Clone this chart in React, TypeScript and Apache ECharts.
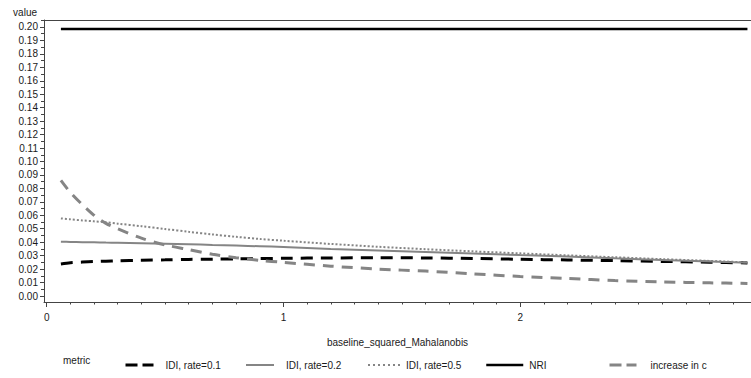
import React, { useEffect, useRef } from "react";
import * as echarts from "echarts";

// x positions (baseline_squared_Mahalanobis) at which curves are read
const xValues = [0.06, 0.1, 0.15, 0.2, 0.25, 0.3, 0.4, 0.5, 0.6, 0.7, 0.8, 0.9, 1.0, 1.2, 1.4, 1.6, 1.8, 2.0, 2.2, 2.4, 2.6, 2.8, 2.96];

const idiRate01 = [0.0238, 0.0247, 0.0252, 0.0256, 0.0259, 0.0262, 0.0266, 0.0269, 0.0272, 0.0274, 0.0276, 0.0278, 0.028, 0.0283, 0.0284, 0.0283, 0.0279, 0.0273, 0.0268, 0.0263, 0.0257, 0.0251, 0.0246];
const idiRate02 = [0.0403, 0.0402, 0.04, 0.0399, 0.0397, 0.0396, 0.0393, 0.0389, 0.0385, 0.038, 0.0375, 0.037, 0.0364, 0.035, 0.0338, 0.0327, 0.0316, 0.0304, 0.0293, 0.028, 0.0268, 0.0257, 0.0248];
const idiRate05 = [0.0577, 0.057, 0.0562, 0.0555, 0.0548, 0.0538, 0.0519, 0.0498, 0.0477, 0.0458, 0.044, 0.0424, 0.0411, 0.0387, 0.0366, 0.0348, 0.0332, 0.0317, 0.0302, 0.0288, 0.0274, 0.0261, 0.025];
const nri = [0.1985, 0.1985, 0.1985, 0.1985, 0.1985, 0.1985, 0.1985, 0.1985, 0.1985, 0.1985, 0.1985, 0.1985, 0.1985, 0.1985, 0.1985, 0.1985, 0.1985, 0.1985, 0.1985, 0.1985, 0.1985, 0.1985, 0.1985];
const increaseInC = [0.086, 0.077, 0.068, 0.06, 0.054, 0.05, 0.043, 0.038, 0.0345, 0.031, 0.0285, 0.0265, 0.025, 0.0222, 0.02, 0.0185, 0.0165, 0.0145, 0.013, 0.0115, 0.0105, 0.0098, 0.0093];

const seriesNames = ["IDI, rate=0.1", "IDI, rate=0.2", "IDI, rate=0.5", "NRI", "increase in c"];
const seriesValues = [idiRate01, idiRate02, idiRate05, nri, increaseInC];

const yTickValues = [0, 0.01, 0.02, 0.03, 0.04, 0.05, 0.06, 0.07, 0.08, 0.09, 0.1, 0.11, 0.12, 0.13, 0.14, 0.15, 0.16, 0.17, 0.18, 0.19, 0.2];
const xTickValues = [0, 1, 2];

const FONT = "'Liberation Sans', Arial, sans-serif";
const TEXT = "#1a1a1a";
const AXIS = "#444";
const GRAY = "#858585";

const lineStyles = [
  { color: "#000", width: 3, type: [12, 8] },
  { color: GRAY, width: 2, type: "solid" },
  { color: GRAY, width: 2, type: [2, 2] },
  { color: "#000", width: 2.5, type: "solid" },
  { color: GRAY, width: 3, type: [11, 8] },
];

const legendLayout = [
  { left: 119, w: 28, pad: 7, dash: [12, 5] as any },
  { left: 240, w: 28, pad: 7, dash: "solid" as any },
  { left: 362, w: 33, pad: 0, dash: [2, 3] as any },
  { left: 480, w: 37, pad: 1, dash: "solid" as any },
  { left: 603, w: 27, pad: 9, dash: [12, 5] as any },
];

export default function App() {
  const ref = useRef<HTMLDivElement>(null);
  useEffect(() => {
    if (!ref.current) return;
    const chart = echarts.init(ref.current, undefined, { renderer: "svg" });
    const series = seriesNames.map((name, i) => ({
      name,
      type: "line",
      data: xValues.map((x, j) => [x, seriesValues[i][j]]),
      symbol: "none",
      showSymbol: false,
      smooth: 0.3,
      lineStyle: { ...lineStyles[i] },
      itemStyle: { color: lineStyles[i].color },
      emphasis: { disabled: true },
    }));
    const legends = seriesNames.map((name, i) => ({
      show: true,
      left: legendLayout[i].left,
      top: 355,
      orient: "horizontal",
      itemWidth: legendLayout[i].w,
      itemHeight: 10,
      selectedMode: false,
      data: [name],
      itemStyle: { color: "rgba(0,0,0,0)", borderWidth: 0, opacity: 0 },
      lineStyle: { width: lineStyles[i].width, type: legendLayout[i].dash, color: lineStyles[i].color },
      textStyle: { fontFamily: FONT, fontSize: 10, color: TEXT, padding: [0, 0, 0, legendLayout[i].pad] },
    }));
    chart.setOption({
      animation: false,
      grid: { left: 44, right: 0, top: 20, bottom: 76, containLabel: false },
      legend: legends,
      graphic: [
        {
          type: "text",
          left: 63,
          top: 355,
          style: { text: "metric", font: `10px ${FONT}`, fill: TEXT },
        },
      ],
      xAxis: [
        {
          type: "value",
          min: -0.0114,
          max: 2.975,
          minInterval: 1,
          maxInterval: 1,
          name: "baseline_squared_Mahalanobis",
          nameLocation: "middle",
          nameGap: 35,
          nameTextStyle: { fontFamily: FONT, fontSize: 10, color: TEXT },
          axisLine: { show: true, onZero: false, lineStyle: { color: AXIS, width: 1 } },
          axisTick: { show: true, length: 5, customValues: xTickValues, lineStyle: { color: AXIS } },
          minorTick: { show: true, splitNumber: 10, length: 2.5, lineStyle: { color: AXIS } },
          axisLabel: {
            customValues: xTickValues,
            fontFamily: FONT,
            fontSize: 10,
            color: TEXT,
            margin: 10,
            formatter: (v: number) => String(Math.round(v)),
          },
          splitLine: { show: false },
        },
        {
          type: "value",
          position: "top",
          min: -0.0114,
          max: 2.975,
          axisLine: { show: true, onZero: false, lineStyle: { color: AXIS, width: 1 } },
          axisTick: { show: false },
          axisLabel: { show: false },
          splitLine: { show: false },
        },
      ],
      yAxis: {
        type: "value",
        min: -0.00446,
        max: 0.2052,
        minInterval: 0.01,
        maxInterval: 0.01,
        name: "value",
        nameLocation: "end",
        nameGap: 3,
        nameTextStyle: { fontFamily: FONT, fontSize: 10, color: TEXT, align: "right", verticalAlign: "bottom", padding: [0, 7, 0, 0] },
        axisLine: { show: true, onZero: false, lineStyle: { color: AXIS, width: 1 } },
        axisTick: { show: true, length: 4, customValues: yTickValues, lineStyle: { color: AXIS } },
        minorTick: { show: true, splitNumber: 2, length: 3, lineStyle: { color: AXIS } },
        axisLabel: {
          customValues: yTickValues,
          fontFamily: FONT,
          fontSize: 10,
          color: TEXT,
          margin: 6,
          formatter: (v: number) => v.toFixed(2),
        },
        splitLine: { show: false },
      },
      series,
    });
    return () => chart.dispose();
  }, []);
  return <div ref={ref} style={{ position: "fixed", left: 0, top: 0, width: 751, height: 378, background: "#fff" }} />;
}
